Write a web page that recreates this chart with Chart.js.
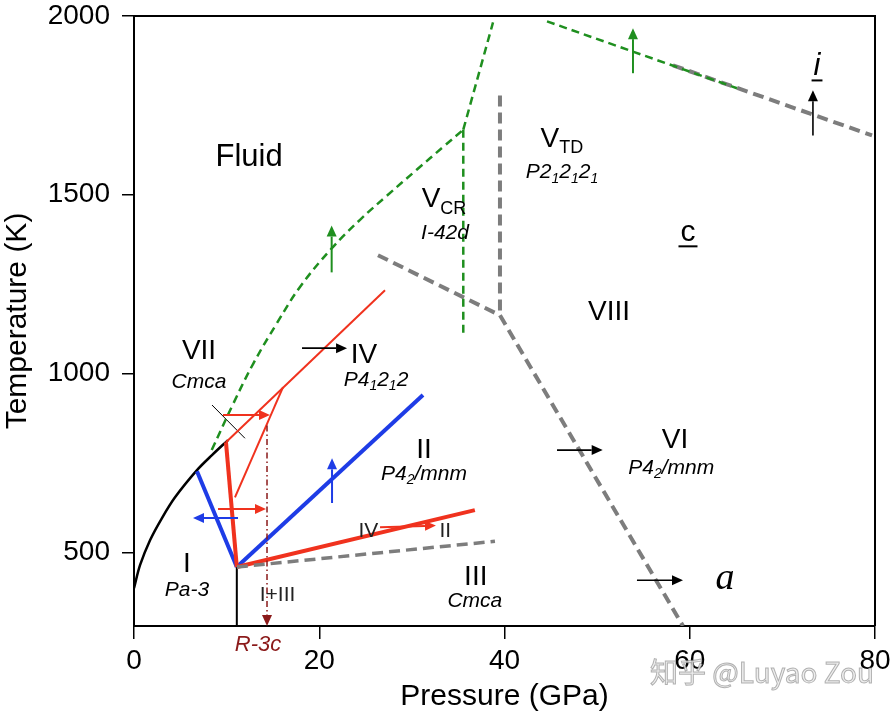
<!DOCTYPE html>
<html>
<head>
<meta charset="utf-8">
<script src="https://cdn.jsdelivr.net/npm/chart.js@4.4.1/dist/chart.umd.min.js"></script>
<style>
  html, body { margin: 0; padding: 0; background: #fff; }
</style>
</head>
<body>
<canvas id="phaseChart" width="892" height="719"></canvas>
<script>
// axis ticks
const pressureTicks = [0, 20, 40, 60, 80];
const temperatureTicks = [500, 1000, 1500, 2000];

// phase boundaries as [pressure GPa, temperature K]
const meltingCurveI = [[0, 400], [0.65, 464], [1.73, 534], [3.02, 596], [4.43, 654], [6.8, 730], [8.42, 772], [10.15, 814]];
const meltingCurveHigh = [[8.39, 786], [10.72, 916], [12.88, 1028], [15.41, 1140], [17.92, 1242], [21.34, 1350], [24.4, 1430], [27.28, 1497], [30.52, 1570], [33.39, 1634], [35.55, 1682]];
const meltingCurveTop = [[35.55, 1682], [38.76, 1982]];
const vcrBoundary = [[35.55, 1682], [35.55, 1103]];
const topMelting = [[44.59, 1985], [65.1, 1798]];
const topGray = [[58.19, 1862], [79.68, 1666]];
const grayUpper = [[26.34, 1331], [39.51, 1163]];
const grayVertical = [[39.51, 1778], [39.51, 1163]];
const grayVIII_VI = [[39.51, 1163], [59.27, 294]];
const grayII_III = [[11.1, 459], [38.97, 531]];
const blueII = [[11.1, 459], [31.2, 940]];
const blueI = [[11.1, 459], [6.8, 727]];
const redIV_II = [[11.1, 459], [36.8, 618]];
const redLeft = [[11.1, 459], [9.93, 808]];
const redIV = [[9.93, 808], [27.1, 1233]];
const redInner = [[10.9, 654], [16.09, 962]];
const boundaryI_III = [[11.1, 459], [11.1, 294]];
const crossMark = [[8.42, 912], [11.98, 819]];
const r3cDrop = [[14.36, 855], [14.36, 300]];

// arrows [p1, t1, p2, t2]
const arrowsBlack = [[18.14, 1071, 23.0, 1071], [45.67, 786, 50.6, 786], [54.3, 422, 59.27, 422], [73.3, 1666, 73.3, 1792]];
const arrowsRed = [[9.61, 884, 14.68, 884], [9.07, 621, 14.25, 621], [26.56, 570, 32.6, 575]];
const arrowsBlue = [[11.23, 596, 6.37, 596], [21.38, 638, 21.38, 763]];
const arrowsGreen = [[21.34, 1283, 21.34, 1414], [53.87, 1840, 53.87, 1966]];
const arrowsDarkRed = [[14.36, 320, 14.36, 294]];

// region labels [text, pressure, temperature, kind]   (_{..} = subscript)
const regionLabels = [
  ['Fluid', 12.42, 1611, 'fluid'],
  ['VII', 7.02, 1068, 'phase'], ['Cmca', 7.02, 981, 'group'],
  ['IV', 24.83, 1057, 'phase'], ['P4_{1}2_{1}2', 26.13, 987, 'group'],
  ['II', 31.31, 791, 'phase'], ['P4_{2}/mnm', 31.31, 724, 'group'],
  ['I', 5.72, 473, 'phase'], ['Pa-3', 5.72, 400, 'group'],
  ['I+III', 15.5, 386, 'small'],
  ['IV', 25.3, 565, 'small'], ['II', 33.6, 565, 'small'],
  ['III', 36.9, 436, 'phase'], ['Cmca', 36.8, 367, 'group'],
  ['VI', 58.4, 819, 'phase'], ['P4_{2}/mnm', 58.0, 741, 'group'],
  ['VIII', 51.28, 1177, 'phase'],
  ['V_{TD}', 46.2, 1661, 'phase'], ['P2_{1}2_{1}2_{1}', 46.21, 1568, 'group'],
  ['V_{CR}', 33.47, 1493, 'phase'], ['I-42d', 33.58, 1398, 'group'],
  ['a', 63.8, 437, 'serif'],
  ['c', 59.81, 1400, 'under'],
  ['i', 73.74, 1865, 'underItalic'],
  ['R-3c', 13.39, 246, 'darkred']
];

const SANS = '"Liberation Sans", Arial, sans-serif';
const RED = '#f0321e';
const BLUE = '#1e3ce6';
const GREEN = '#1f8f1f';
const GRAY = '#7d7d7d';
const DARKRED = '#8b1a1a';

const labelStyles = {
  fluid: { size: 31, italic: false, color: '#000' },
  phase: { size: 28, italic: false, color: '#000' },
  group: { size: 21, italic: true, color: '#000' },
  small: { size: 21, italic: false, color: '#222' },
  serif: { size: 38, italic: true, color: '#000', family: '"Liberation Serif", "Times New Roman", serif' },
  under: { size: 30, italic: false, color: '#000', underline: true },
  underItalic: { size: 31, italic: true, color: '#000', underline: true },
  darkred: { size: 22, italic: true, color: DARKRED }
};

function toPoints(arr) {
  return arr.map(p => ({ x: p[0], y: p[1] }));
}

function line(data, color, width, dash, tension) {
  return {
    data: toPoints(data),
    showLine: true,
    borderColor: color,
    borderWidth: width,
    borderDash: dash || [],
    pointRadius: 0,
    tension: tension || 0,
    fill: false
  };
}

function parseParts(text) {
  const parts = [];
  const re = /_\{([^}]*)\}|([^_]+)/g;
  let m;
  while ((m = re.exec(text)) !== null) {
    if (m[1] !== undefined) parts.push({ t: m[1], sub: true });
    else parts.push({ t: m[2], sub: false });
  }
  return parts;
}

function drawLabel(ctx, cx, cy, text, st) {
  const fam = st.family || SANS;
  const parts = parseParts(text).map(p => {
    const size = p.sub ? Math.round(st.size * 0.65) : st.size;
    ctx.font = (st.italic ? 'italic ' : '') + size + 'px ' + fam;
    return { t: p.t, sub: p.sub, size: size, w: ctx.measureText(p.t).width };
  });
  const total = parts.reduce((s, p) => s + p.w, 0);
  const base = cy + st.size * 0.36;
  let xx = cx - total / 2;
  ctx.fillStyle = st.color;
  ctx.textBaseline = 'alphabetic';
  ctx.textAlign = 'left';
  parts.forEach(p => {
    ctx.font = (st.italic ? 'italic ' : '') + p.size + 'px ' + fam;
    ctx.fillText(p.t, xx, base + (p.sub ? st.size * 0.22 : 0));
    xx += p.w;
  });
  if (st.underline) {
    ctx.fillRect(cx - total / 2 - 2, base + 4, total + 4, 2);
  }
}

function drawArrow(ctx, x1, y1, x2, y2, color, width) {
  const a = Math.atan2(y2 - y1, x2 - x1);
  const head = 11, half = 5;
  ctx.strokeStyle = color;
  ctx.fillStyle = color;
  ctx.lineWidth = width;
  ctx.setLineDash([]);
  ctx.beginPath();
  ctx.moveTo(x1, y1);
  ctx.lineTo(x2 - head * Math.cos(a), y2 - head * Math.sin(a));
  ctx.stroke();
  ctx.beginPath();
  ctx.moveTo(x2, y2);
  ctx.lineTo(x2 - head * Math.cos(a) + half * Math.sin(a), y2 - head * Math.sin(a) - half * Math.cos(a));
  ctx.lineTo(x2 - head * Math.cos(a) - half * Math.sin(a), y2 - head * Math.sin(a) + half * Math.cos(a));
  ctx.closePath();
  ctx.fill();
}

const overlayPlugin = {
  id: 'overlay',
  afterDraw(chart) {
    const { ctx, chartArea, scales } = chart;
    const px = v => scales.x.getPixelForValue(v);
    const py = v => scales.y.getPixelForValue(v);
    ctx.save();

    // top and right frame
    ctx.strokeStyle = '#000';
    ctx.lineWidth = 2;
    ctx.beginPath();
    ctx.moveTo(chartArea.left, chartArea.top);
    ctx.lineTo(chartArea.right, chartArea.top);
    ctx.lineTo(chartArea.right, chartArea.bottom);
    ctx.stroke();

    const groups = [[arrowsBlack, '#000', 1.6], [arrowsRed, RED, 2], [arrowsBlue, BLUE, 2],
                    [arrowsGreen, GREEN, 2], [arrowsDarkRed, DARKRED, 1.5]];
    groups.forEach(g => g[0].forEach(a => drawArrow(ctx, px(a[0]), py(a[1]), px(a[2]), py(a[3]), g[1], g[2])));

    regionLabels.forEach(l => drawLabel(ctx, px(l[1]), py(l[2]), l[0], labelStyles[l[3]]));

    // watermark
    ctx.font = '28px "Noto Sans CJK SC", sans-serif';
    ctx.textAlign = 'center';
    ctx.textBaseline = 'middle';
    ctx.lineWidth = 1;
    ctx.strokeStyle = 'rgba(120,120,120,0.55)';
    ctx.fillStyle = 'rgba(235,235,235,0.85)';
    ctx.fillText('知乎 @Luyao Zou', 762, 672);
    ctx.strokeText('知乎 @Luyao Zou', 762, 672);
    ctx.restore();
  }
};

const datasets = [
  line(meltingCurveHigh, GREEN, 2.5, [8, 5], 0.4),
  line(meltingCurveTop, GREEN, 2.5, [8, 5]),
  line(vcrBoundary, GREEN, 2.5, [8, 5]),
  line(topMelting, GREEN, 2.5, [8, 5]),
  line(grayUpper, GRAY, 4, [11, 6]),
  line(grayVertical, GRAY, 4, [11, 6]),
  line(grayVIII_VI, GRAY, 4, [11, 6]),
  line(grayII_III, GRAY, 3.5, [11, 6]),
  line(topGray, GRAY, 4, [11, 6]),
  line(r3cDrop, DARKRED, 1.5, [6, 3, 1.5, 3]),
  line(redIV, RED, 2),
  line(redInner, RED, 2),
  line(redIV_II, RED, 4),
  line(redLeft, RED, 4),
  line(blueII, BLUE, 4),
  line(blueI, BLUE, 4),
  line(meltingCurveI, '#000', 2.5, [], 0.3),
  line(boundaryI_III, '#000', 2),
  line(crossMark, '#000', 1)
];

new Chart(document.getElementById('phaseChart').getContext('2d'), {
  type: 'scatter',
  data: { datasets: datasets },
  options: {
    responsive: false,
    animation: false,
    layout: { padding: { left: 0, top: 16, right: 17, bottom: 0 } },
    plugins: { legend: { display: false }, tooltip: { enabled: false } },
    scales: {
      x: {
        type: 'linear',
        min: 0,
        max: 80,
        afterBuildTicks: s => { s.ticks = pressureTicks.map(v => ({ value: v })); },
        afterFit: s => { s.height = 93; s.paddingLeft = 0; s.paddingRight = 0; },
        ticks: { color: '#000', font: { family: SANS, size: 28 }, padding: 5, maxRotation: 0, callback: v => String(v) },
        grid: { drawOnChartArea: false, drawTicks: true, tickLength: 13, color: '#000', lineWidth: 1.5 },
        border: { display: true, color: '#000', width: 2 },
        title: { display: true, text: 'Pressure (GPa)', color: '#000', font: { family: SANS, size: 30 }, padding: { top: 0, bottom: 4 } }
      },
      y: {
        type: 'linear',
        min: 294,
        max: 2000,
        afterBuildTicks: s => { s.ticks = temperatureTicks.map(v => ({ value: v })); },
        afterFit: s => { s.width = 134; s.paddingTop = 0; s.paddingBottom = 0; },
        ticks: { color: '#000', font: { family: SANS, size: 28 }, padding: 12, callback: v => String(v) },
        grid: { drawOnChartArea: false, drawTicks: true, tickLength: 12, color: '#000', lineWidth: 1.5 },
        border: { display: true, color: '#000', width: 2 },
        title: { display: true, text: 'Temperature (K)', color: '#000', font: { family: SANS, size: 30 }, padding: { top: 0, bottom: 0 } }
      }
    }
  },
  plugins: [overlayPlugin]
});
</script>
</body>
</html>
